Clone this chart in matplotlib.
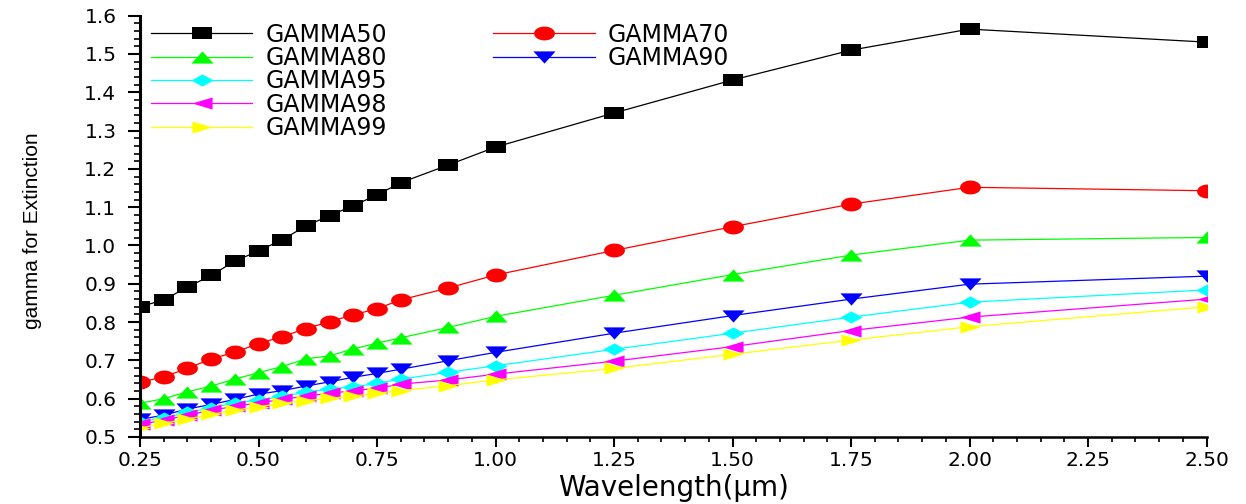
import numpy as np
import matplotlib
matplotlib.use("Agg")
import matplotlib.pyplot as plt
from matplotlib.path import Path
from matplotlib.font_manager import FontProperties
from matplotlib.ticker import MultipleLocator

wavelength = [0.25, 0.30, 0.35, 0.40, 0.45, 0.50, 0.55, 0.60, 0.65, 0.70,
              0.75, 0.80, 0.90, 1.00, 1.25, 1.50, 1.75, 2.00, 2.50]

gamma50 = [0.840, 0.858, 0.891, 0.922, 0.959, 0.986, 1.015, 1.051, 1.078, 1.104,
           1.132, 1.164, 1.210, 1.257, 1.346, 1.432, 1.510, 1.565, 1.531]
gamma70 = [0.643, 0.657, 0.679, 0.704, 0.721, 0.744, 0.762, 0.783, 0.801, 0.819,
           0.835, 0.858, 0.889, 0.923, 0.987, 1.049, 1.108, 1.152, 1.143]
gamma80 = [0.588, 0.600, 0.618, 0.633, 0.651, 0.668, 0.684, 0.704, 0.712, 0.730,
           0.745, 0.759, 0.786, 0.815, 0.870, 0.924, 0.975, 1.014, 1.021]
gamma90 = [0.546, 0.557, 0.573, 0.585, 0.598, 0.612, 0.621, 0.633, 0.644, 0.656,
           0.666, 0.677, 0.699, 0.721, 0.771, 0.817, 0.860, 0.899, 0.920]
gamma95 = [0.540, 0.550, 0.564, 0.576, 0.589, 0.596, 0.606, 0.617, 0.625, 0.631,
           0.640, 0.651, 0.669, 0.686, 0.729, 0.771, 0.813, 0.852, 0.884]
gamma98 = [0.533, 0.544, 0.557, 0.570, 0.580, 0.589, 0.598, 0.607, 0.614, 0.621,
           0.627, 0.638, 0.649, 0.664, 0.698, 0.736, 0.778, 0.813, 0.860]
gamma99 = [0.523, 0.536, 0.547, 0.559, 0.570, 0.579, 0.588, 0.595, 0.601, 0.607,
           0.614, 0.621, 0.634, 0.649, 0.679, 0.716, 0.753, 0.788, 0.840]

labels = ["GAMMA50", "GAMMA70", "GAMMA80", "GAMMA90", "GAMMA95", "GAMMA98", "GAMMA99"]


def _poly(verts):
    verts = np.asarray(verts, dtype=float)
    verts = np.vstack([verts, verts[:1]])
    codes = [Path.MOVETO] + [Path.LINETO] * (len(verts) - 2) + [Path.CLOSEPOLY]
    return Path(verts, codes)


# wide, flat marker shapes (width is the marker size)
t = np.linspace(0, 2 * np.pi, 41)[:-1]
MK_SQUARE = _poly([(-0.85, -0.5), (0.85, -0.5), (0.85, 0.5), (-0.85, 0.5)])
MK_ELLIPSE = _poly(np.column_stack([0.9 * np.cos(t), 0.6 * np.sin(t)]))
MK_UP = _poly([(-1, -0.55), (1, -0.55), (0, 0.55)])
MK_DOWN = _poly([(-1, 0.55), (1, 0.55), (0, -0.55)])
MK_DIAMOND = _poly([(-1, 0), (0, -0.55), (1, 0), (0, 0.55)])
MK_LEFT = _poly([(-1, 0), (1, -0.6), (1, 0.6)])
MK_RIGHT = _poly([(1, 0), (-1, -0.6), (-1, 0.6)])

series = [
    (gamma50, "black", MK_SQUARE, 14.0),
    (gamma70, "red", MK_ELLIPSE, 15.0),
    (gamma80, "#00ff00", MK_UP, 16.0),
    (gamma90, "blue", MK_DOWN, 16.0),
    (gamma95, "cyan", MK_DIAMOND, 16.0),
    (gamma98, "magenta", MK_LEFT, 14.5),
    (gamma99, "yellow", MK_RIGHT, 14.5),
]

fig = plt.figure(figsize=(12.46, 5.04), dpi=100)
ax = fig.add_axes([0.11236, 0.13294, 0.85594, 0.83591])

lines = []
for (vals, color, mk, ms), name in zip(series, labels):
    (ln,) = ax.plot(wavelength, vals, color=color, lw=0.9, marker=mk, ms=ms,
                    mec=color, mew=0, mfc=color, label=name)
    lines.append(ln)

ax.set_xlim(0.25, 2.5)
ax.set_ylim(0.5, 1.6)
ax.xaxis.set_major_locator(MultipleLocator(0.25))
ax.xaxis.set_minor_locator(MultipleLocator(0.05))
ax.yaxis.set_major_locator(MultipleLocator(0.1))
ax.yaxis.set_minor_locator(MultipleLocator(0.02))
ax.xaxis.set_major_formatter(plt.FuncFormatter(lambda v, p: f"{v:.2f}"))
ax.yaxis.set_major_formatter(plt.FuncFormatter(lambda v, p: f"{v:.1f}"))

for s in ("top", "right"):
    ax.spines[s].set_visible(False)
ax.spines["left"].set_linewidth(2.2)
ax.spines["bottom"].set_linewidth(1.8)

ax.tick_params(axis="x", which="major", direction="out", length=7, width=1.5, pad=3)
ax.tick_params(axis="x", which="minor", direction="out", length=3.5, width=1.2)
ax.tick_params(axis="y", which="major", direction="out", length=9, width=1.5, pad=8)
ax.tick_params(axis="y", which="minor", direction="out", length=4.5, width=1.2)
for lab in ax.get_xticklabels() + ax.get_yticklabels():
    lab.set_fontfamily("DejaVu Sans")
    lab.set_fontsize(14.5)

ax.set_xlabel("Wavelength(μm)", fontsize=20, family="DejaVu Sans", labelpad=3)
ax.set_ylabel("gamma for Extinction", fontsize=15, family="Liberation Sans")
ax.yaxis.set_label_coords(-0.092, 0.49)

leg_prop = FontProperties(family="DejaVu Sans", size=17)
leg_kw = dict(frameon=False, prop=leg_prop, numpoints=1, handlelength=4.3,
              handletextpad=0.55, labelspacing=-0.03, borderpad=0, borderaxespad=0,
              loc="upper left", bbox_transform=fig.transFigure)
order1 = [0, 2, 4, 5, 6]
order2 = [1, 3]
leg1 = ax.legend([lines[i] for i in order1], [labels[i] for i in order1],
                 bbox_to_anchor=(0.121, 0.955), **leg_kw)
ax.add_artist(leg1)
ax.legend([lines[i] for i in order2], [labels[i] for i in order2],
          bbox_to_anchor=(0.3957, 0.955), **leg_kw)

fig.savefig("out.png", dpi=100)
